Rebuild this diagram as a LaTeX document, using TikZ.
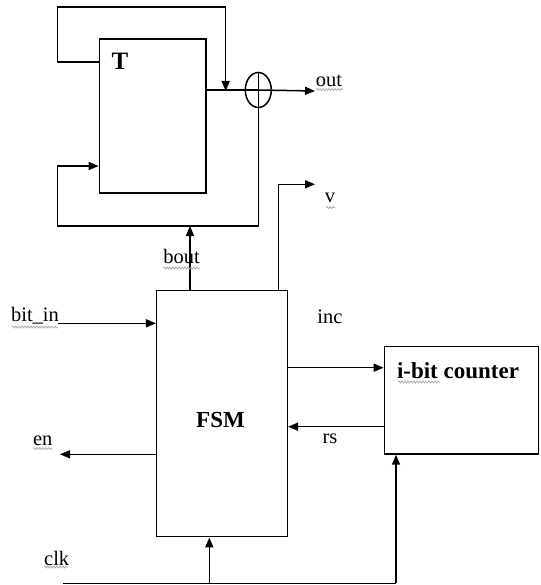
\documentclass[tikz,border=0pt]{standalone}
\usepackage{fontspec}
\setmainfont{Liberation Serif}
\usetikzlibrary{arrows.meta,shapes.geometric,decorations.pathmorphing}
\begin{document}
\begin{tikzpicture}[x=1pt,y=-1pt,line width=1.5pt,
  arr/.style={-{Triangle[length=10pt,width=8pt]}},
  blk/.style={draw,rectangle,inner sep=0pt},
  lbl/.style={anchor=base,inner sep=0pt,font=\fontsize{20.5}{22}\selectfont},
  blbl/.style={anchor=base,inner sep=0pt,font=\fontsize{23}{25}\selectfont\bfseries},
  sq/.style={draw=gray!70,line width=0.7pt,decorate,decoration={snake,amplitude=1pt,segment length=3pt}}]
\useasboundingbox (0,0) rectangle (540,585);
% blocks
\node[blk,minimum width=106.7pt,minimum height=154pt] (T) at (152.7,116) {};
\node[draw,ellipse,inner sep=0pt,minimum width=26pt,minimum height=35pt] (xor) at (258.3,90) {};
\node[blk,minimum width=130.6pt,minimum height=246pt] (fsm) at (222,413.7) {};
\node[blk,minimum width=154pt,minimum height=107.3pt] (cnt) at (461.3,400.3) {};
% labels inside blocks
\node[blbl,font=\fontsize{25}{27}\selectfont\bfseries] (tl) at (120,70) {T};
\node[blbl] (fsml) at (220.5,427) {FSM};
\node[blbl] (cntl) at (458,378) {i-bit counter};
% coordinates
\coordinate (j1) at (225.7,91);
\coordinate (lft) at (57.7,0);
\coordinate (outend) at (315,91);
\coordinate (bot) at (0,226);
\coordinate (vend) at (315,184.3);
\coordinate (bitin) at (58,323.3);
\coordinate (enend) at (60,454.3);
\coordinate (clkst) at (63.3,583.3);
% XOR cross and through-line
\draw (xor.north) -- (xor.south);
\draw (T.east |- xor.center) -- (xor.center);
\draw[arr] (xor.center) -- (outend);
% top feedback
\draw[arr] (T.west |- 0,62) -- (lft |- 0,62) -- (lft |- 0,7) -- (j1 |- 0,7) -- (j1);
% bottom feedback
\draw[arr] (xor.south) -- (xor.south |- bot) -- (lft |- bot) -- (lft |- 0,166) -- (T.west |- 0,166);
% FSM outputs
\draw[arr] (fsm.north -| 190,0) -- (190,226);
\draw[arr] (fsm.north -| 278.3,0) -- (278.3,184.3) -- (vend);
\draw[arr] (bitin) -- (fsm.west |- bitin);
\draw[arr] (fsm.west |- enend) -- (enend);
\draw[arr] (fsm.east |- 0,367.7) -- (cnt.west |- 0,367.7);
\draw[arr] (cnt.west |- 0,426.7) -- (fsm.east |- 0,426.7);
% clock
\draw (clkst) -- (396,583.3);
\draw[arr] (209.3,583.3) -- (fsm.south -| 209.3,0);
\draw[arr] (396,583.3) -- (cnt.south -| 396,0);
% labels
\node[lbl] (outl) at (329,87) {out};
\node[lbl] (vl) at (330,203) {v};
\node[lbl] (boutl) at (181.7,263) {bout};
\node[lbl] (bitinl) at (35,321.7) {bit\_in};
\node[lbl] (incl) at (330,323) {inc};
\node[lbl] (rsl) at (330,443) {rs};
\node[lbl] (enl) at (42.7,445) {en};
\node[lbl] (clkl) at (56.7,565) {clk};
% spell-check squiggles
\draw[sq] (316,89.5) -- (343,89.5);
\draw[sq] (326,207.5) -- (335,207.5);
\draw[sq] (163,268) -- (200,268);
\draw[sq] (12,327) -- (58,327);
\draw[sq] (33,448.5) -- (52,448.5);
\draw[sq] (44,567) -- (68,567);
\draw[sq] (398,382) -- (440,382);
\end{tikzpicture}
\end{document}
